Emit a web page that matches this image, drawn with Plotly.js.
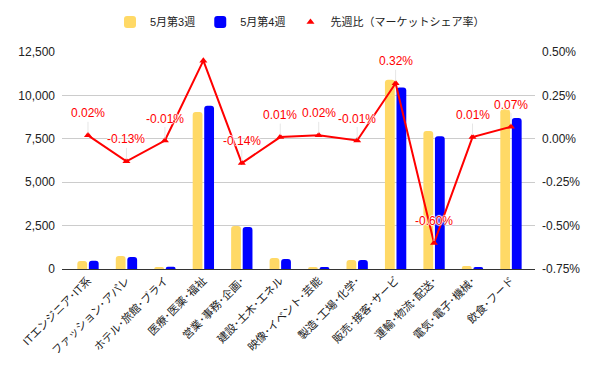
<!DOCTYPE html>
<html>
<head>
<meta charset="utf-8">
<script src="https://cdn.plot.ly/plotly-3.0.1.min.js"></script>
<style>html,body{margin:0;padding:0;background:#fff}#chart{width:600px;height:371px}</style>
</head>
<body>
<div id="chart"></div>
<script>
const categories = ["ITエンジニア･IT系","ファッション･アパレ","ホテル･旅館･ブライ","医療･医薬･福祉","営業･事務･企画･","建設･土木･エネル","映像･イベント･芸能","製造･工場･化学･","販売･接客･サービ","運輸･物流･配送･","電気･電子･機械･","飲食･フード"];
const week3 = [460, 750, 120, 9050, 2480, 630, 120, 520, 10900, 7950, 170, 9200];
const week4 = [470, 690, 130, 9400, 2420, 580, 120, 520, 10450, 7650, 120, 8700];
const shareChange = [0.02, -0.13, -0.01, 0.45, -0.14, 0.01, 0.02, -0.01, 0.32, -0.60, 0.01, 0.07];
const shareLabels = ["0.02%","-0.13%","-0.01%","","-0.14%","0.01%","0.02%","-0.01%","0.32%","-0.60%","0.01%","0.07%"];
const leftTickVals = [0, 2500, 5000, 7500, 10000, 12500];
const rightTickVals = [-0.75, -0.5, -0.25, 0, 0.25, 0.5];
const rightTickText = ["-0.75%","-0.50%","-0.25%","0.00%","0.25%","0.50%"];
const seriesNames = ["5月第3週","5月第4週","先週比（マーケットシェア率）"];

const FONT = "Liberation Sans, Arial, Noto Sans CJK JP, sans-serif";

const traces = [
  {type:'bar', name:seriesNames[0], x:categories, y:week3, marker:{color:'#ffd966', cornerradius:3}},
  {type:'bar', name:seriesNames[1], x:categories, y:week4, marker:{color:'#0000ff', cornerradius:3}},
  {type:'scatter', mode:'lines', x:categories, y:shareChange, yaxis:'y2', showlegend:false,
   line:{color:'#ff0000', width:2}, hoverinfo:'skip'},
  {type:'scatter', mode:'markers', name:seriesNames[2], x:categories, y:shareChange, yaxis:'y2',
   marker:{color:'#ff0000', symbol:'triangle-up', size:7}}
];

const annotations = [];
categories.forEach((c,i)=>{
  if(!shareLabels[i]) return;
  annotations.push({x:c, y:shareChange[i], xref:'x', yref:'y2', text:shareLabels[i],
    showarrow:true, arrowhead:0, arrowwidth:1, arrowcolor:'#e6e6e6', ax:0, ay:-22, standoff:2,
    font:{color:'#ff0000', size:12, family:FONT, shadow:'1px 0 1px #fff, -1px 0 1px #fff, 0 1px 1px #fff, 0 -1px 1px #fff'}});
});

const layout = {
  width:600, height:371,
  margin:{l:62, r:65, t:52, b:102, pad:0},
  paper_bgcolor:'#fff', plot_bgcolor:'#fff',
  font:{family:FONT, size:12, color:'#222'},
  barmode:'group', bargap:0.4, bargroupgap:0.15,
  showlegend:true,
  legend:{orientation:'h', xref:'container', x:0.5, xanchor:'center', yref:'container', y:0.941, yanchor:'middle',
    font:{size:11, color:'#222'}, itemwidth:30, traceorder:'normal'},
  xaxis:{type:'category', range:[-0.676, 11.625], tickangle:-45, showgrid:false, automargin:false,
    showline:true, linecolor:'#333', linewidth:1, ticks:'', tickfont:{size:11, color:'#222'}, fixedrange:true},
  yaxis:{range:[0,12500], tickvals:leftTickVals, tickformat:',', showgrid:true, gridcolor:'#cccccc', automargin:false,
    zeroline:false, ticks:'', ticklabelstandoff:6, tickfont:{size:12, color:'#222'}},
  yaxis2:{overlaying:'y', side:'right', range:[-0.75,0.5], tickvals:rightTickVals, ticktext:rightTickText, automargin:false,
    showgrid:false, zeroline:false, ticks:'', ticklabelstandoff:6, tickfont:{size:12, color:'#222'}},
  annotations:annotations
};

Plotly.newPlot('chart', traces, layout, {displayModeBar:false, staticPlot:true});
</script>
</body>
</html>
